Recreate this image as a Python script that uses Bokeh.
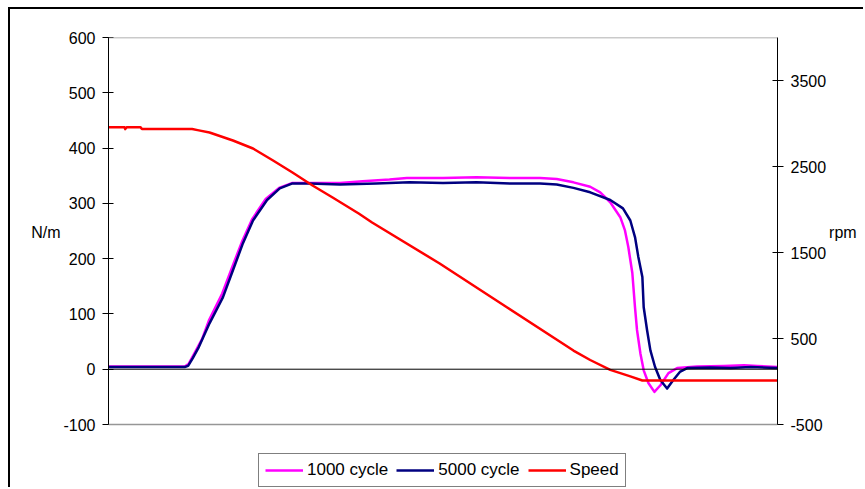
from bokeh.plotting import figure
from bokeh.models import (Range1d, LinearAxis, FixedTicker, Span, Legend, LegendItem, PrintfTickFormatter)
from bokeh.embed import file_html
from bokeh.resources import INLINE

# ---- data ----
t_1000 = [0, 11.4, 12.0, 12.8, 14, 15, 17, 18.5, 20, 21.5, 23.5, 25.5, 27.5, 30, 34.6, 38, 42, 44.6, 50, 55,
          60, 64.5, 67, 69.5, 72, 73.5, 75.0, 76.5, 77.2, 77.7, 78.3, 78.7, 79.0, 79.5, 80.0, 80.7, 81.6, 82.5,
          83.7, 85.0, 88, 92, 95, 97, 100]
torque_1000 = [5, 5, 10, 28, 55, 88, 137, 185, 232, 272, 308, 328, 337, 337, 337, 340, 343, 346, 346, 347,
               346, 346, 344, 338, 330, 320, 302, 275, 251, 221, 174, 112, 71, 29, -2, -25, -41, -29,
               -7, 2, 5, 6, 7, 6, 4]

t_5000 = [0, 11.4, 11.9, 12.6, 13.5, 15.1, 17.1, 18.6, 20.1, 21.6, 23.7, 25.6, 27.5, 30, 34.6, 40, 45, 50, 55, 60,
          64.5, 67, 69.5, 72, 75.0, 76.9, 78.0, 78.7, 79.2, 79.8, 80.0, 80.5, 81.0, 81.7, 82.5, 83.5, 84.4, 85.4,
          86.5, 90, 93, 96, 100]
torque_5000 = [4, 4, 6, 20, 40, 83, 130, 179, 228, 269, 306, 327, 336, 336, 334, 336, 338, 337, 338, 336,
               336, 334, 328, 320, 306, 291, 269, 239, 203, 167, 112, 71, 34, 4, -20, -35, -20, -5,
               2, 3, 2, 4, 2]

t_speed = [0, 2.4, 2.5, 2.7, 4.8, 5.0, 12.5, 13.5, 15.1, 18.6, 21.6, 24.6, 27.5, 30.5, 33.5, 37.4, 39.4,
           49.5, 59.6, 69.5, 72, 75, 78, 79.8, 100]
speed_rpm = [2955, 2955, 2935, 2955, 2955, 2935, 2935, 2920, 2895, 2802, 2709, 2570, 2430, 2279, 2140, 1953,
             1849, 1372, 860, 360, 250, 135, 60, 12, 12]

left_ticks = [-100, 0, 100, 200, 300, 400, 500, 600]
right_ticks = [-500, 500, 1500, 2500, 3500]
left_bounds = (-100, 600)
right_bounds = (-500, 4000)
series_names = ["1000 cycle", "5000 cycle", "Speed"]

FONT = "Liberation Sans"
FS = "16px"

# layout (page pixels): figure content origin at (10, 9) after CSS margin + border
OX, OY = 10, 9
W, H = 855, 480
LEFT, RIGHT = 109, 777
TOP, AXIS_BOTTOM, FRAME_BOTTOM = 37, 424, 488
ext = (FRAME_BOTTOM - AXIS_BOTTOM) / (AXIS_BOTTOM - TOP)

ly0 = left_bounds[0] - (left_bounds[1] - left_bounds[0]) * ext
ry0 = right_bounds[0] - (right_bounds[1] - right_bounds[0]) * ext

p = figure(width=W, height=H, output_backend="svg", toolbar_location=None,
           x_range=Range1d(0, 100), y_range=Range1d(ly0, left_bounds[1]),
           min_border_left=LEFT - OX - 1, min_border_right=OX + W - RIGHT,
           min_border_top=TOP - OY, min_border_bottom=OY + H - FRAME_BOTTOM)
p.styles = {"margin-left": "8px", "margin-top": "7px",
            "border-left": "2px solid black", "border-top": "2px solid black"}
p.extra_y_ranges = {"rpm": Range1d(ry0, right_bounds[1])}
p.outline_line_color = None
p.xgrid.visible = False
p.ygrid.visible = False
p.xaxis.visible = False
p.background_fill_color = "white"
p.border_fill_color = "white"


def style_axis(a, label, ticks, bounds, label_standoff, tick_standoff):
    a.ticker = FixedTicker(ticks=ticks)
    a.bounds = bounds
    a.formatter = PrintfTickFormatter(format="%d")
    a.axis_label = label + "\n \n \n "
    a.axis_label_orientation = "horizontal"
    a.axis_label_text_font = FONT
    a.axis_label_text_font_size = FS
    a.axis_label_text_font_style = "normal"
    a.axis_label_text_color = "black"
    a.axis_label_standoff = label_standoff
    a.major_label_text_font = FONT
    a.major_label_text_font_size = FS
    a.major_label_text_color = "black"
    a.major_label_standoff = tick_standoff
    a.major_tick_out = 6
    a.major_tick_in = 5
    a.minor_tick_line_color = None
    a.axis_line_color = "black"
    a.major_tick_line_color = "black"


style_axis(p.yaxis[0], "N/m", left_ticks, left_bounds, 0, 7)

rax = LinearAxis(y_range_name="rpm")
style_axis(rax, "rpm", right_ticks, right_bounds, 0, 7)
p.add_layout(rax, "right")

# frame lines
p.add_layout(Span(location=left_bounds[1], dimension="width", line_color="#969696", line_width=1.5))
p.add_layout(Span(location=left_bounds[0], dimension="width", line_color="#969696", line_width=1.5))
p.add_layout(Span(location=0, dimension="width", line_color="black", line_width=1))

r1 = p.line(t_1000, torque_1000, line_color="#FF00FF", line_width=2.5, line_join="round")
r2 = p.line(t_5000, torque_5000, line_color="#000080", line_width=2.5, line_join="round")
r3 = p.line(t_speed, speed_rpm, y_range_name="rpm", line_color="#FF0000", line_width=2.5, line_join="round")

legend = Legend(items=[LegendItem(label=series_names[0], renderers=[r1]),
                       LegendItem(label=series_names[1], renderers=[r2]),
                       LegendItem(label=series_names[2], renderers=[r3])],
                orientation="horizontal", location=(150, 1),
                label_text_font=FONT, label_text_font_size="17px", label_text_color="black",
                glyph_width=38, glyph_height=20, label_height=20, label_standoff=4,
                spacing=8, padding=6, margin=0,
                border_line_color="black", border_line_width=1,
                background_fill_color="white", background_fill_alpha=1)
p.add_layout(legend, "center")

open("out.html", "w").write(file_html(p, INLINE))
